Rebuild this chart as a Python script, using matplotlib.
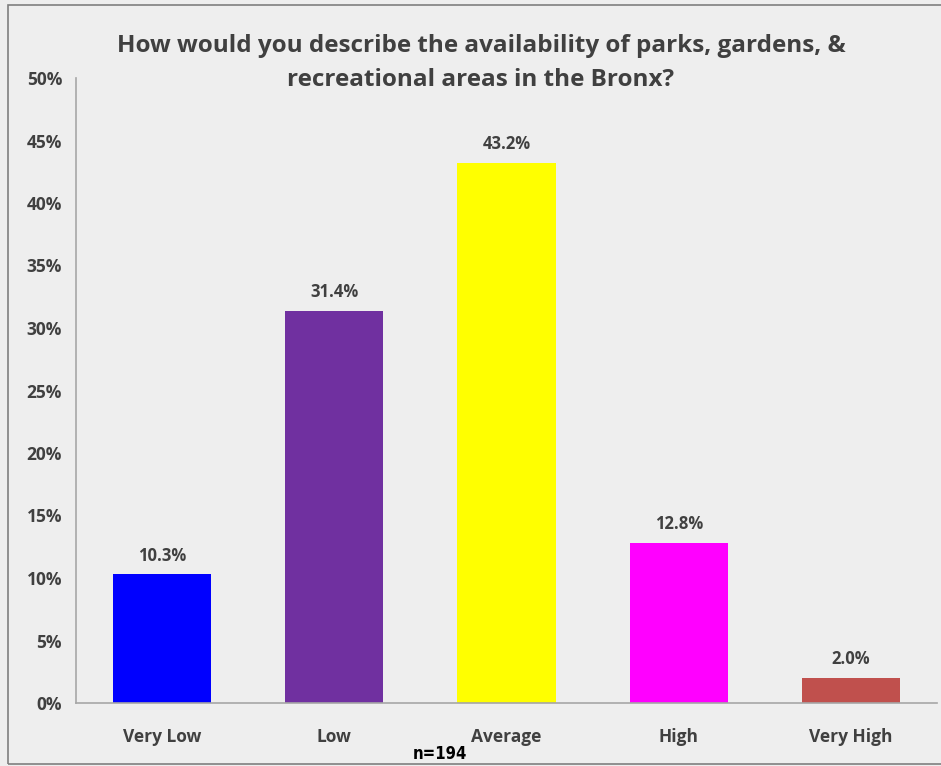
import matplotlib
matplotlib.use("Agg")
from matplotlib import pyplot as plt
from matplotlib import patches
from matplotlib.ticker import MultipleLocator, FuncFormatter

categories = ["Very Low", "Low", "Average", "High", "Very High"]
shares = [10.3, 31.4, 43.2, 12.8, 2.0]
bar_colors = ["#0000FF", "#7030A0", "#FFFF00", "#FF00FF", "#C0504D"]
title = ("How would you describe the availability of parks, gardens, &\n"
         "recreational areas in the Bronx?")
sample_note = "n=194"

BG = "#EEEEEE"
TEXT = "#404040"
plt.rcParams["font.family"] = ["Open Sans", "DejaVu Sans"]

fig = plt.figure(figsize=(9.41, 7.66), dpi=100, facecolor=BG)
W, H = 941, 766
ax = fig.add_axes([76 / W, 1 - 703 / H, 861 / W, 625 / H])
ax.set_facecolor(BG)

x = range(len(categories))
bars = ax.bar(x, shares, width=0.57, color=bar_colors)

# value labels on top of each bar
for rect, val in zip(bars, shares):
    ax.annotate(f"{val:.1f}%", (rect.get_x() + rect.get_width() / 2, val),
                xytext=(0, 7), textcoords="offset points",
                ha="center", va="bottom", fontsize=12, fontweight="bold",
                color=TEXT)

ax.set_xlim(-0.5, len(categories) - 0.5)
ax.set_ylim(0, 50)
ax.yaxis.set_major_locator(MultipleLocator(5))
ax.yaxis.set_major_formatter(FuncFormatter(lambda v, _: f"{v:.0f}%"))
ax.set_xticks(list(x))
ax.set_xticklabels(categories)
ax.tick_params(axis="both", length=0, labelsize=12.5, labelcolor=TEXT)
ax.tick_params(axis="y", pad=10)
ax.tick_params(axis="x", pad=18)
for lab in ax.get_xticklabels() + ax.get_yticklabels():
    lab.set_fontweight("bold")

for side in ("top", "right"):
    ax.spines[side].set_visible(False)
for side in ("left", "bottom"):
    ax.spines[side].set_color("#A6A6A6")
    ax.spines[side].set_linewidth(1.2)

fig.text(481 / W, 1 - 63 / H, title, ha="center", va="center",
         fontsize=17.5, fontweight="bold", color=TEXT, linespacing=1.6)

fig.text(440 / W, 1 - 754 / H, sample_note, ha="center", va="center",
         fontsize=12, fontweight="bold", color="black",
         family="DejaVu Sans", fontstretch="condensed")

# outer frame of the chart area
fig.patches.append(patches.Rectangle((8 / W, 2 / H), 1.2, 1 - 7 / H,
                                     transform=fig.transFigure, fill=False,
                                     edgecolor="#7F7F7F", linewidth=1.2))

fig.savefig("out.png", dpi=100, facecolor=BG)
